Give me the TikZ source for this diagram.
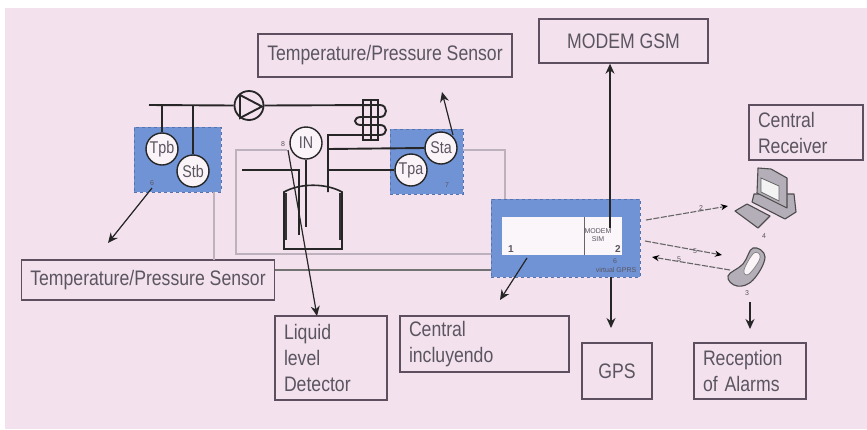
\documentclass[tikz,border=0pt]{standalone}
\usepackage{fontspec}
\setmainfont{Liberation Sans}
\newfontfamily\narrowfont[FakeStretch=0.84]{Liberation Sans}
\usetikzlibrary{arrows.meta, calc}
\definecolor{pagepink}{HTML}{F3E1EE}
\definecolor{panelblue}{HTML}{7093D6}
\definecolor{paneledge}{HTML}{5673AE}
\definecolor{boxline}{HTML}{5E4F60}
\definecolor{textgray}{HTML}{5A5560}
\definecolor{wiregray}{HTML}{BDB1BD}
\definecolor{devicegray}{HTML}{B4AEB8}
\tikzset{%
  labelbox/.style={draw=boxline, line width=1.4pt, inner xsep=9pt, inner ysep=0pt, align=left,
    text=textgray, font=\narrowfont\fontsize{21}{26}\selectfont},
  panel/.style={fill=panelblue, draw=paneledge, dashed, line width=0.8pt, inner sep=0pt},
  sensor/.style={draw=black!85, line width=1.4pt, circle, fill=pagepink!40, minimum size=32pt,
    inner sep=0pt, text=textgray, font=\narrowfont\fontsize{17}{18}\selectfont},
  pipe/.style={line width=1.9pt, black!85},
  wire/.style={line width=1.4pt, wiregray},
  move/.style={line width=1.2pt, black!85, -{Stealth[length=10pt,width=9pt]}},
  radio/.style={line width=1.1pt, black!60, dash pattern=on 6pt off 1.5pt, -{Stealth[length=7pt,width=6pt,black]}},
  tiny/.style={inner sep=0pt, text=textgray, font=\fontsize{7}{8}\selectfont},
  digit/.style={inner sep=0pt, text=textgray, font=\fontsize{10}{11}\bfseries\selectfont},
  device/.style={draw=black!70, line width=1.1pt, fill=devicegray, line join=round}
}
\begin{document}
\begin{tikzpicture}[x=1pt, y=-1pt]
  \useasboundingbox (0,0) rectangle (867,429);
  \fill[pagepink] (5,8) rectangle (867,429);

  % panels
  \node[panel, minimum width=87pt, minimum height=65pt] (panelb) at (177.5,159.5) {};
  \node[panel, minimum width=73pt, minimum height=65pt] (panela) at (426.5,161.5) {};
  \node[panel, minimum width=149pt, minimum height=78pt] (central) at (565.5,238) {};
  \node[fill=pagepink!30, minimum width=120pt, minimum height=38pt, inner sep=0pt] (display) at (562,236) {};

  % label boxes
  \node[labelbox, minimum width=254pt, minimum height=43pt, align=center] (sensortop) at (385,55.5) {Temperature/Pressure Sensor};
  \node[labelbox, minimum width=169pt, minimum height=44pt, align=center] (modem) at (623.5,41) {MODEM GSM};
  \node[labelbox, text width=96pt, minimum height=55pt] (receiver) at (806,132.5) {Central\\Receiver};
  \node[labelbox, minimum width=252pt, minimum height=40pt, align=center] (sensorbottom) at (148,280) {Temperature/Pressure Sensor};
  \node[labelbox, text width=94pt, minimum height=84pt] (detector) at (331,358) {Liquid\\level\\Detector};
  \node[labelbox, text width=151pt, minimum height=56pt] (unit) at (484.5,344) {Central\\incluyendo};
  \node[labelbox, minimum width=70pt, minimum height=56pt, align=center] (gps) at (617,371) {GPS};
  \node[labelbox, text width=94pt, minimum height=56pt] (alarms) at (750,371) {Reception\\of Alarms};

  % wires
  \coordinate (wirea) at (236,150);
  \coordinate (wireb) at (236,254);
  \coordinate (wirec) at (505,150);
  \draw[wire] (287,150) -- (wirea) -- (wireb) -- (central.west |- wireb);
  \draw[wire] (panela.east |- wirec) -- (wirec) -- (wirec |- central.north);
  \draw[wire] (214,192) -- (214,260);
  \draw[line width=1.4pt, black!55] (sensorbottom.east |- 0,270) -- (central.west |- 0,270);

  % pipes
  \node[draw=black!85, line width=1.8pt, circle, minimum size=29pt, inner sep=0pt] (pump) at (249,105.5) {};
  \coordinate (pipestart) at (149,105);
  \draw[pipe] (pipestart) -- (pump.west);
  \draw[pipe] (240,95) -- (262,106.5) -- (240,118) -- cycle;
  \draw[pipe] (pump.east) -- (380,105) .. controls (388,105) and (388,117) .. (380,117)
    -- (361,117) .. controls (353,117) and (353,125) .. (361,125)
    -- (380,125) .. controls (388,125) and (388,135) .. (380,135) -- (328,135) -- (328,192);
  \draw[pipe] (363,100) -- (363,140) -- (378,140) -- (378,100) -- cycle;
  \draw[pipe] (371,100) -- (371,140);

  % sensors
  \node[sensor] (tpb) at (162,149) {Tpb};
  \node[sensor] (stb) at (193,171) {Stb};
  \node[sensor] (level) at (306,143) {IN};
  \node[sensor] (sta) at (441,148) {Sta};
  \node[sensor] (tpa) at (411,170) {Tpa};
  \draw[pipe] (tpb.north |- pipestart) -- (tpb.north);
  \draw[pipe] (stb.north |- pipestart) -- (stb.north);
  \draw[pipe] (328,149) -- (sta.west);
  \draw[pipe] (328,170) -- (tpa.west);

  % tank
  \draw[line width=1.6pt, black!85] (284,192) .. controls (300,183) and (326,183) .. (342,192)
    -- (342,249) -- (284,249) -- cycle;
  \draw[line width=2.6pt, black!80] (286,193) -- (286,240) (340,193) -- (340,240);
  \draw[pipe] (242,170) -- (299,170) -- (299,235);
  \draw[pipe] (level.south) -- (306,227);

  % display
  \draw[line width=0.8pt, black!60] (584,217) -- (584,255);
  \node[digit] (num1) at (511,249) {1};
  \node[digit] (num2) at (618,249) {2};
  \node[tiny, align=center] (simtext) at (598,235) {MODEM\\SIM};
  \node[tiny] (num6) at (615,261) {6};
  \node[tiny] (gprs) at (616,270) {virtual GPRS};
  \node[tiny] (numb) at (152,183) {6};
  \node[tiny] (numa) at (447,185) {7};
  \node[tiny] (num8) at (283,144) {8};

  % computer
  \draw[device] (754,194) -- (794,194) -- (796,212) -- (785,219) -- (752,202) -- cycle;
  \draw[device] (758,168) -- (771,169) -- (787,178) -- (787,208) -- (757,193) -- cycle;
  \draw[line width=0.8pt, black!60, fill=white!85!devicegray] (761,178) -- (779,186) -- (779,201) -- (761,192) -- cycle;
  \draw[device] (735,211) -- (747,204) -- (770,216) -- (758,228) -- cycle;
  % phone
  \draw[device] plot[smooth cycle, tension=0.7] coordinates {(753,248) (765,257) (753,280) (737,286) (728,276) (743,264)};
  \draw[line width=0.7pt, black!50, fill=pagepink!40] plot[smooth cycle, tension=0.7] coordinates {(754,253) (760,258) (749,274) (744,270)};

  \node[tiny] (num4) at (764,236) {4};
  \node[tiny] (num3) at (747,293) {3};

  % arrows
  \coordinate (tipb) at (108,243);
  \coordinate (tipa) at (442,92);
  \coordinate (tipunit) at (500,300);
  \coordinate (levelfoot) at (317,316);
  \draw[move] (152,188) -- (tipb);
  \draw[move] (453,135) -- (tipa);
  \draw[move] (527,258) -- (tipunit);
  \draw[move] (288,150) -- (levelfoot);
  \coordinate (modemlow) at (610,228);
  \draw[move] (modemlow) -- (modem.south -| modemlow);
  \coordinate (gpsup) at (611,277);
  \coordinate (gpstip) at (611,328);
  \draw[move] (gpsup) -- (gpstip);
  \coordinate (alarmtop) at (750,302);
  \coordinate (alarmtip) at (750,329);
  \draw[move] (alarmtop) -- (alarmtip);

  % radio links
  \coordinate (linka) at (646,220);
  \coordinate (linkb) at (728,206);
  \coordinate (linkc) at (645,241);
  \coordinate (linkd) at (722,255);
  \coordinate (linke) at (730,270);
  \coordinate (linkf) at (652,257);
  \draw[radio] (linka) -- (linkb);
  \draw[radio] (linkc) -- (linkd);
  \draw[radio] (linke) -- (linkf);
  \node[tiny] (labela) at (701,208) {2};
  \node[tiny] (labelb) at (695,251) {5};
  \node[tiny] (labelc) at (679,259) {5};
\end{tikzpicture}
\end{document}
